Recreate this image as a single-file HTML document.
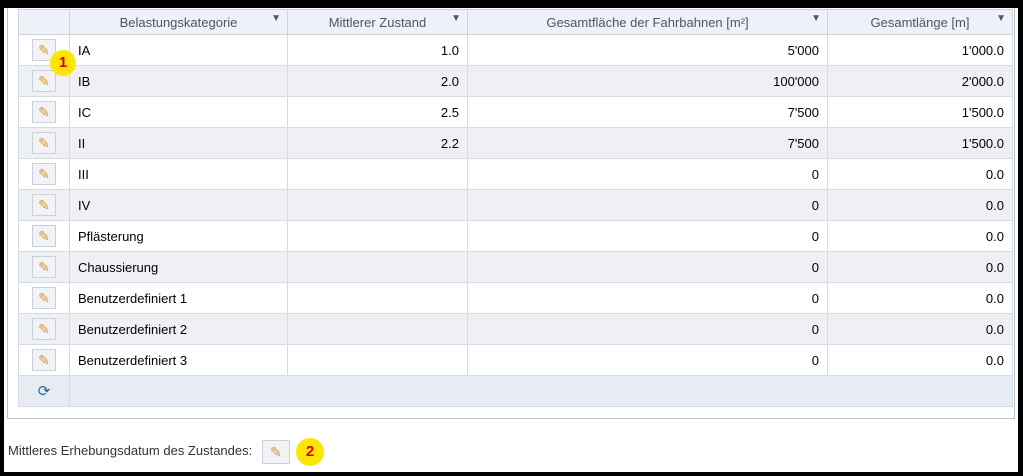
<!DOCTYPE html>
<html><head><meta charset="utf-8"><style>
body{margin:0;width:1023px;height:476px;overflow:hidden;background:#000;font-family:"Liberation Sans",sans-serif;}
#frame{position:absolute;left:4px;top:8px;width:1014px;height:464px;background:#fff;}
#panel{position:absolute;left:3px;top:0;width:1008px;height:411px;border:1px solid #b9c2cf;border-top:none;box-sizing:border-box;}
table{position:absolute;left:10px;top:1px;border-collapse:collapse;table-layout:fixed;font-size:13px;color:#000;}
td,th{border:1px solid #d3dbe6;height:31px;padding:0 8px;box-sizing:border-box;white-space:nowrap;}
th{height:25px;background:#eef2f8;color:#4a5566;font-weight:normal;position:relative;border-color:#c9d3e0;}
.flt{position:absolute;right:6px;top:3px;font-size:10px;color:#556;}
tr.alt td{background:#eef0f3;}
td.r{text-align:right;}
.btn{width:24px;height:22px;border:1px solid #c8d0da;background:#f1f3f6;display:inline-block;box-sizing:border-box;text-align:center;line-height:20px;font-size:14px;color:#d9962a;}
td.b{padding:0;text-align:center;}
.badge{position:absolute;width:26px;height:26px;border-radius:50%;background:#ffe600;color:#e00000;font-weight:bold;font-size:15px;text-align:center;line-height:26px;}
.foot td{background:#e7ecf3;height:31px;}
</style></head><body>
<div id="frame">
<div id="panel">
<table>
<colgroup><col style="width:51px"><col style="width:218px"><col style="width:180px"><col style="width:360px"><col style="width:185px"></colgroup>
<tr>
<th></th>
<th>Belastungskategorie<span class="flt">&#9660;</span></th>
<th>Mittlerer Zustand<span class="flt">&#9660;</span></th>
<th>Gesamtfläche der Fahrbahnen [m²]<span class="flt">&#9660;</span></th>
<th>Gesamtlänge [m]<span class="flt">&#9660;</span></th>
</tr>
<tr><td class="b"><span class="btn">✎</span></td><td>IA</td><td class="r">1.0</td><td class="r">5'000</td><td class="r">1'000.0</td></tr>
<tr class="alt"><td class="b"><span class="btn">✎</span></td><td>IB</td><td class="r">2.0</td><td class="r">100'000</td><td class="r">2'000.0</td></tr>
<tr><td class="b"><span class="btn">✎</span></td><td>IC</td><td class="r">2.5</td><td class="r">7'500</td><td class="r">1'500.0</td></tr>
<tr class="alt"><td class="b"><span class="btn">✎</span></td><td>II</td><td class="r">2.2</td><td class="r">7'500</td><td class="r">1'500.0</td></tr>
<tr><td class="b"><span class="btn">✎</span></td><td>III</td><td class="r"></td><td class="r">0</td><td class="r">0.0</td></tr>
<tr class="alt"><td class="b"><span class="btn">✎</span></td><td>IV</td><td class="r"></td><td class="r">0</td><td class="r">0.0</td></tr>
<tr><td class="b"><span class="btn">✎</span></td><td>Pflästerung</td><td class="r"></td><td class="r">0</td><td class="r">0.0</td></tr>
<tr class="alt"><td class="b"><span class="btn">✎</span></td><td>Chaussierung</td><td class="r"></td><td class="r">0</td><td class="r">0.0</td></tr>
<tr><td class="b"><span class="btn">✎</span></td><td>Benutzerdefiniert 1</td><td class="r"></td><td class="r">0</td><td class="r">0.0</td></tr>
<tr class="alt"><td class="b"><span class="btn">✎</span></td><td>Benutzerdefiniert 2</td><td class="r"></td><td class="r">0</td><td class="r">0.0</td></tr>
<tr><td class="b"><span class="btn">✎</span></td><td>Benutzerdefiniert 3</td><td class="r"></td><td class="r">0</td><td class="r">0.0</td></tr>
<tr class="foot"><td class="b" style="color:#2a62a8;font-size:15px">⟳</td><td colspan="4"></td></tr>
</table>
<div class="badge" style="left:42px;top:42px">1</div>
</div>
<div style="position:absolute;left:4px;top:435px;font-size:13px;color:#333">Mittleres Erhebungsdatum des Zustandes:</div>
<span class="btn" style="position:absolute;left:258px;top:432px;width:28px;height:24px;line-height:22px">✎</span>
<div class="badge" style="left:292px;top:430px;width:28px;height:28px;line-height:28px">2</div>
</div>
</body></html>
